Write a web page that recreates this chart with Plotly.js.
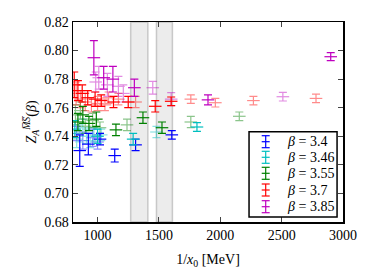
<!DOCTYPE html>
<html><head><meta charset="utf-8">
<script src="https://cdn.plot.ly/plotly-3.0.1.min.js"></script>
<style>html,body{margin:0;padding:0;background:#fff}#c{width:374px;height:280px}</style>
</head><body><div id="c"></div>
<script>
const betaLabels = ["3.4", "3.46", "3.55", "3.7", "3.85"];
const colors = ["#0000ff", "#00bfbf", "#008000", "#ff0000", "#bf00bf"];

// solid points
const xB34 = [855, 925, 1020, 1140, 1310, 1605];
const yB34 = [0.730, 0.7345, 0.738, 0.7265, 0.734, 0.741];
const eB34 = [0.011, 0.0075, 0.004, 0.0045, 0.004, 0.003];
const xB346 = [815, 1000, 1290, 1810];
const yB346 = [0.745, 0.740, 0.738, 0.7465];
const eB346 = [0.006, 0.005, 0.004, 0.003];
const xB355 = [840, 880, 930, 990, 1150, 1370, 1525];
const yB355 = [0.750, 0.755, 0.749, 0.752, 0.7445, 0.753, 0.746];
const eB355 = [0.006, 0.006, 0.005, 0.005, 0.004, 0.004, 0.004];
const xB37 = [810, 840, 875, 920, 980, 1030, 1130, 1250, 1470, 1600];
const yB37 = [0.776, 0.772, 0.770, 0.767, 0.766, 0.765, 0.764, 0.764, 0.761, 0.7645];
const eB37 = [0.009, 0.007, 0.006, 0.005, 0.005, 0.004, 0.004, 0.004, 0.004, 0.003];
const xB385 = [970, 1050, 1125, 1300, 1900, 2900];
const yB385 = [0.795, 0.781, 0.780, 0.774, 0.7655, 0.7957];
const eB385 = [0.012, 0.008, 0.009, 0.006, 0.0035, 0.0028];

// faded points
const xF34 = [830, 880, 960, 1000];
const yF34 = [0.742, 0.737, 0.739, 0.736];
const eF34 = [0.005, 0.006, 0.006, 0.005];
const xF346 = [830, 850, 880, 910, 940, 970, 1030, 1480];
const yF346 = [0.738, 0.742, 0.746, 0.740, 0.737, 0.741, 0.741, 0.743];
const eF346 = [0.006, 0.006, 0.006, 0.005, 0.005, 0.005, 0.004, 0.004];
const xF355 = [820, 860, 900, 960, 1020, 1240, 1760, 2155];
const yF355 = [0.755, 0.758, 0.747, 0.751, 0.746, 0.748, 0.750, 0.754];
const eF355 = [0.007, 0.006, 0.005, 0.005, 0.004, 0.004, 0.004, 0.003];
const xF37 = [825, 860, 900, 950, 1000, 1060, 1090, 1170, 1310, 1760, 1960, 2270, 2780];
const yF37 = [0.770, 0.766, 0.764, 0.762, 0.763, 0.762, 0.767, 0.766, 0.764, 0.766, 0.7635, 0.765, 0.7665];
const eF37 = [0.008, 0.006, 0.006, 0.005, 0.005, 0.004, 0.004, 0.004, 0.004, 0.003, 0.003, 0.003, 0.003];
const xF385 = [985, 1010, 1080, 1170, 1210, 1450, 1600, 2510];
const yF385 = [0.778, 0.781, 0.776, 0.775, 0.770, 0.774, 0.766, 0.7677];
const eF385 = [0.007, 0.008, 0.008, 0.007, 0.006, 0.0045, 0.0045, 0.003];

const bandStarts = [1270, 1480];
const bandEnds = [1410, 1610];

const solid = [[xB34,yB34,eB34],[xB346,yB346,eB346],[xB355,yB355,eB355],[xB37,yB37,eB37],[xB385,yB385,eB385]];
const faded = [[xF34,yF34,eF34],[xF346,yF346,eF346],[xF355,yF355,eF355],[xF37,yF37,eF37],[xF385,yF385,eF385]];

const traces = [];
function mk(d, i, op) {
  return {
    type: 'scatter', mode: 'markers', x: d[0], y: d[1],
    error_y: {type: 'data', array: d[2], visible: true, color: colors[i], thickness: 1.2, width: 4},
    marker: {symbol: 'line-ew-open', size: 9, color: colors[i], line: {color: colors[i], width: 1.2}},
    opacity: op, name: 'β = ' + betaLabels[i], showlegend: false, cliponaxis: true
  };
}
for (let i = 0; i < 5; i++) traces.push(mk(faded[i], i, 0.45));
for (let i = 0; i < 5; i++) traces.push(mk(solid[i], i, 1));

const shapes = bandStarts.map((s, k) => ({
  type: 'rect', xref: 'x', yref: 'paper', x0: s, x1: bandEnds[k], y0: 0, y1: 1,
  fillcolor: 'rgba(200,200,200,0.35)', line: {color: 'rgba(170,170,170,0.6)', width: 1.5}, layer: 'below'
}));

// hand-drawn legend (errorbar-style keys)
const annotations = [];
shapes.push({type: 'rect', xref: 'paper', yref: 'paper', x0: 0.652, x1: 0.978, y0: 0.025, y1: 0.4515,
  fillcolor: '#fff', line: {color: '#000', width: 1.5}, layer: 'above'});
const rowY = [0.4015, 0.3235, 0.2435, 0.16, 0.0765];
const symX = 0.7137, capW = 0.0148, halfH = 0.03;
for (let i = 0; i < 5; i++) {
  const c = colors[i], y = rowY[i];
  shapes.push({type: 'line', xref: 'paper', yref: 'paper', x0: symX, x1: symX, y0: y - halfH, y1: y + halfH, line: {color: c, width: 1.2}});
  [y - halfH, y, y + halfH].forEach(yy => shapes.push({type: 'line', xref: 'paper', yref: 'paper',
    x0: symX - capW, x1: symX + capW, y0: yy, y1: yy, line: {color: c, width: 1.2}}));
  annotations.push({xref: 'paper', yref: 'paper', x: 0.785, y: y, xanchor: 'left', yanchor: 'middle',
    text: '<i>β</i> = ' + betaLabels[i], showarrow: false,
    font: {family: 'Liberation Serif, DejaVu Serif, serif', size: 14, color: '#000'}});
}

const fontS = {family: 'Liberation Serif, DejaVu Serif, serif', size: 14, color: '#000'};
const layout = {
  width: 374, height: 280,
  margin: {l: 73, r: 31, t: 22, b: 58},
  paper_bgcolor: '#fff', plot_bgcolor: '#fff',
  font: fontS,
  showlegend: false,
  xaxis: {range: [800, 3000], tickvals: [1000, 1500, 2000, 2500, 3000], ticks: 'inside', ticklen: 5,
    mirror: 'ticks', showline: true, linecolor: '#000', linewidth: 1.5, showgrid: false, zeroline: false,
    tickfont: fontS, title: {text: '1/<i>x</i><sub>0</sub> [MeV]', font: fontS, standoff: 12}},
  yaxis: {range: [0.68, 0.82], dtick: 0.02, tickformat: '.2f', ticks: 'inside', ticklen: 5,
    mirror: 'ticks', showline: true, linecolor: '#000', linewidth: 1.5, showgrid: false, zeroline: false,
    tickfont: fontS, title: {text: '<i>Z</i><sub><i>A</i></sub><sup><i>M̅S̅</i></sup>(<i>β</i>)', font: fontS, standoff: 4}},
  shapes: shapes,
  annotations: annotations
};
Plotly.newPlot('c', traces, layout, {displayModeBar: false, staticPlot: true});
</script></body></html>
